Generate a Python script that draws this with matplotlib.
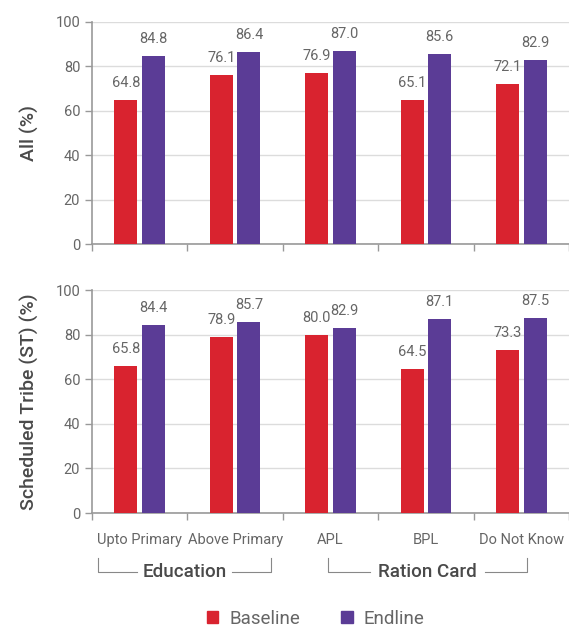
import matplotlib
matplotlib.use("Agg")
import matplotlib.pyplot as plt
import numpy as np

categories = ["Upto Primary", "Above Primary", "APL", "BPL", "Do Not Know"]
all_baseline = [64.8, 76.1, 76.9, 65.1, 72.1]
all_endline = [84.8, 86.4, 87.0, 85.6, 82.9]
st_baseline = [65.8, 78.9, 80.0, 64.5, 73.3]
st_endline = [84.4, 85.7, 82.9, 87.1, 87.5]
yticks = [0, 20, 40, 60, 80, 100]
groups = [("Education", -0.44, 1.38), ("Ration Card", 1.97, 4.06)]
series_names = ["Baseline", "Endline"]

RED = "#D9232F"
PURPLE = "#5B3C96"
TXT = "#666666"
DARK = "#4a4a4a"
GRID = "#DCDCDC"
SPINE = "#999999"

plt.rcParams["font.family"] = ["Roboto", "DejaVu Sans"]

fig = plt.figure(figsize=(5.69, 6.28), dpi=100)
ax1 = fig.add_axes([0.1617, 0.611, 0.8383, 0.354])
ax2 = fig.add_axes([0.1617, 0.183, 0.8383, 0.355])

x = np.arange(len(categories))
w = 0.24
off = 0.145

def draw(ax, base, end, ylabel, show_labels):
    ax.bar(x - off, base, w, color=RED, zorder=3, label=series_names[0])
    ax.bar(x + off, end, w, color=PURPLE, zorder=3, label=series_names[1])
    for xi, v in zip(x - off, base):
        ax.text(xi, v + 4.5, f"{v:.1f}", ha="center", va="bottom", fontsize=10.5,
                color=TXT)
    for xi, v in zip(x + off, end):
        ax.text(xi, v + 4.5, f"{v:.1f}", ha="center", va="bottom", fontsize=10.5,
                color=TXT)
    ax.set_xlim(-0.5, len(categories) - 0.5)
    ax.set_ylim(0, 100)
    ax.set_yticks(yticks)
    ax.yaxis.grid(True, color=GRID, linewidth=1, zorder=0)
    ax.set_axisbelow(True)
    for s in ["top", "right"]:
        ax.spines[s].set_visible(False)
    for s in ["left", "bottom"]:
        ax.spines[s].set_color(SPINE)
        ax.spines[s].set_linewidth(1.2)
    ax.set_xticks(np.arange(-0.5, len(categories) + 0.5, 1), minor=False)
    ax.set_xticklabels([])
    ax.set_xticks(x, minor=True)
    ax.tick_params(axis="x", which="major", length=5, color=SPINE, width=1)
    ax.tick_params(axis="x", which="minor", length=0, pad=14)
    if show_labels:
        ax.set_xticklabels(categories, minor=True, fontsize=10.5, color=TXT)
    ax.tick_params(axis="y", length=5, color=SPINE, labelsize=10.5, labelcolor=TXT,
                   width=1)
    ax.set_ylabel(ylabel, fontsize=14, color=DARK, labelpad=12, fontweight="medium")

draw(ax1, all_baseline, all_endline, "All (%)", False)
draw(ax2, st_baseline, st_endline, "Scheduled Tribe (ST) (%)", True)
fig.align_ylabels([ax1, ax2])

# group brackets
for name, x0, x1 in groups:
    xc = (x0 + x1) / 2
    trans = ax2.get_xaxis_transform()
    y_top = -0.2
    y_bot = -0.265
    gap = 0.5 if name == "Education" else 0.6
    ax2.plot([x0, x0, xc - gap], [y_top, y_bot, y_bot], color="#888888", lw=0.8,
             transform=trans, clip_on=False)
    ax2.plot([xc + gap, x1, x1], [y_bot, y_bot, y_top], color="#888888", lw=0.8,
             transform=trans, clip_on=False)
    ax2.text(xc, y_bot, name, ha="center", va="center", fontsize=13.5,
             color=DARK, fontweight="medium", transform=trans)

handles = [plt.Rectangle((0, 0), 1, 1, color=RED), plt.Rectangle((0, 0), 1, 1, color=PURPLE)]
fig.legend(handles, series_names, loc="center", bbox_to_anchor=(0.555, 0.015),
           ncol=2, frameon=False, fontsize=13.5, handlelength=0.6, handleheight=0.6,
           columnspacing=2.2, handletextpad=0.6, labelcolor=TXT)

fig.savefig("out.png", dpi=100)
